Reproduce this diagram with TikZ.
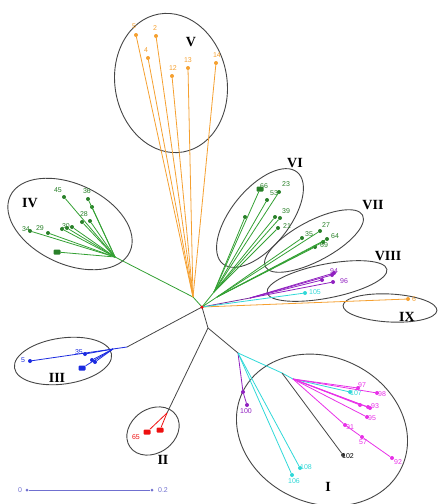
\documentclass[tikz,border=0pt]{standalone}
\usepackage{fontspec}
\setmainfont{Liberation Serif}
\newfontfamily\labfont{Liberation Sans}
\usetikzlibrary{shapes.geometric}
\definecolor{cor}{HTML}{F5A030}
\definecolor{cgr}{HTML}{33A033}
\definecolor{cbl}{HTML}{1A2AE0}
\definecolor{cre}{HTML}{EE1010}
\definecolor{cpu}{HTML}{9020C0}
\definecolor{ccy}{HTML}{30D8D8}
\definecolor{cma}{HTML}{E830E8}
\definecolor{cbk}{HTML}{454545}
\definecolor{csc}{HTML}{7070D0}
\begin{document}
\begin{tikzpicture}[x=1pt,y=-1pt,
 br/.style={line width=0.8pt},
 lf/.style={circle,fill,inner sep=0pt,minimum size=4pt},
 bl/.style={rectangle,fill,inner sep=0pt,minimum width=7pt,minimum height=5pt,rounded corners=1pt},
 lb/.style={font=\labfont\fontsize{7}{7}\selectfont,inner sep=0.5pt},
 rn/.style={font=\bfseries\fontsize{14}{14}\selectfont,inner sep=0pt},
 grp/.style={ellipse,draw=cbk,line width=0.9pt,inner sep=0pt}]
\useasboundingbox (0,0) rectangle (439,504);
% group ellipses
\node[grp,minimum width=112pt,minimum height=140pt,rotate=10] (eV) at (171,83) {};
\node[grp,minimum width=132pt,minimum height=80pt,rotate=-25] (eIV) at (70,224) {};
\node[grp,minimum width=118pt,minimum height=58pt,rotate=51] (eVI) at (260,218) {};
\node[grp,minimum width=110pt,minimum height=40pt,rotate=28] (eVII) at (314,241) {};
\node[grp,minimum width=122pt,minimum height=34pt,rotate=11] (eVIII) at (327,281) {};
\node[grp,minimum width=94pt,minimum height=28pt,rotate=-3] (eIX) at (390,308) {};
\node[grp,minimum width=98pt,minimum height=46pt,rotate=8] (eIII) at (63,361) {};
\node[grp,minimum width=56pt,minimum height=44pt,rotate=35] (eII) at (153,431) {};
\node[grp,minimum width=176pt,minimum height=146pt,rotate=-25] (eI) at (322,430) {};
% roman numerals
\node[rn] (rV) at (191,42) {V};
\node[rn] (rIV) at (30,203) {IV};
\node[rn] (rVI) at (295,163) {VI};
\node[rn] (rVII) at (373,205) {VII};
\node[rn] (rVIII) at (388,256) {VIII};
\node[rn] (rIX) at (407,317) {IX};
\node[rn] (rIII) at (57,378) {III};
\node[rn] (rII) at (163,460) {II};
\node[rn] (rI) at (328,487) {I};
% junctions
\coordinate (c0) at (202,307);
\coordinate (o1) at (193,297);
\coordinate (g4) at (115,257);
\coordinate (g6) at (214,292);
\coordinate (g7) at (217,297);
\coordinate (p8) at (250,298);
\coordinate (b0) at (127,347);
\coordinate (b1) at (113,349);
\coordinate (d1) at (208,328);
\coordinate (r0) at (167,413);
\coordinate (d2) at (238,353);
\coordinate (c2) at (282,373);
\coordinate (c3) at (293,379);
% ---- trunk lines
\draw[br,cgr] (c0) -- (o1) -- (g4);
\draw[br,cgr] (c0) -- (g6);
\draw[br,cgr] (c0) -- (g7);
\draw[br,cpu!70!cbk] (c0) -- (p8);
\draw[br,cbk] (c0) -- (b0);
\draw[br,cbk] (c0) -- (d1) -- (r0);
\draw[br,cbk] (d1) -- (d2);
% ---- V and IX (orange)
\begin{scope}[cor]
\node[lf] (v5) at (136,35) {};  \node[lb] (l5) at (134,26) {5};
\node[lf] (v2) at (156,36) {};  \node[lb] (l2) at (155,28) {2};
\node[lf] (v4) at (148,58) {};  \node[lb] (l4) at (146,50) {4};
\node[lf] (v12) at (172,76) {}; \node[lb] (l12) at (173,68) {12};
\node[lf] (v13) at (188,68) {}; \node[lb] (l13) at (188,60) {13};
\node[lf] (v14) at (216,63) {}; \node[lb] (l14) at (217,55) {14};
\foreach \n in {v5,v2,v4,v12,v13,v14} \draw[br] (o1) -- (\n);
\node[lf] (x1) at (408,299) {}; \node[lb] (lx1) at (414,299) {6};
\draw[br] (c0) -- (x1);
\end{scope}
% ---- IV (green)
\begin{scope}[cgr!80!black]
\node[lf] (i45) at (64,197) {}; \node[lb] (l45) at (58,190) {45};
\node[lf] (i36) at (88,199) {}; \node[lb] (l36) at (87,191) {36};
\node[lf] (i37) at (92,207) {};
\node[lf] (i28) at (82,222) {}; \node[lb] (l28) at (84,214) {28};
\node[lf] (i28b) at (90,221) {};
\node[lf] (i34) at (30,231) {}; \node[lb] (l34) at (26,229) {34};
\node[lf] (i29) at (48,233) {}; \node[lb] (l29) at (40,228) {29};
\node[lf] (i30) at (62,229) {};
\node[lf] (i31) at (67,228) {}; \node[lb] (l30) at (66,226) {30};
\node[lf] (i32) at (72,227) {};
\node[bl] (iblob) at (57,252) {};
\foreach \n in {i45,i36,i37,i28,i28b,i34,i29,i30,i31,i32,iblob} \draw[br,cgr] (g4) -- (\n);
% VI
\node[lf] (s23) at (279,192) {}; \node[lb] (l23) at (286,184) {23};
\node[bl] (s66) at (260,189) {}; \node[lb] (l66) at (264,186) {66};
\node[lf] (s53) at (267,200) {}; \node[lb] (l53) at (274,193) {53};
\node[lf] (s26) at (245,217) {};
\node[lf] (s39a) at (275,217) {};
\node[lf] (s39b) at (280,218) {}; \node[lb] (l39) at (286,211) {39};
\node[lf] (s21) at (278,228) {}; \node[lb] (l21) at (287,226) {21};
\foreach \n in {s23,s66,s53,s26,s39a,s39b,s21} \draw[br,cgr] (g6) -- (\n);
% VII
\node[lf] (t27) at (320,231) {}; \node[lb] (l27) at (326,225) {27};
\node[lf] (t35) at (302,238) {}; \node[lb] (l35) at (309,234) {35};
\node[lf] (t64) at (327,239) {}; \node[lb] (l64) at (335,236) {64};
\node[lf] (t63) at (323,242) {};
\node[lf] (t69) at (315,247) {}; \node[lb] (l69) at (324,245) {69};
\foreach \n in {t27,t35,t64,t63,t69} \draw[br,cgr] (g7) -- (\n);
\end{scope}
% ---- VIII (purple + cyan)
\begin{scope}[cpu]
\node[lf] (u1) at (332,275) {};
\node[lf] (u2) at (334,273) {}; \node[lb] (l94) at (334,271) {94};
\node[lf] (u3) at (322,280) {};
\node[lf] (u4) at (333,282) {}; \node[lb] (l96) at (344,281) {96};
\foreach \n in {u1,u2,u3,u4} \draw[br] (p8) -- (\n);
\end{scope}
\begin{scope}[ccy]
\node[lf] (u5) at (305,293) {}; \node[lb] (l105) at (315,292) {105};
\draw[br] (c0) -- (u5);
\end{scope}
% ---- III (blue)
\begin{scope}[cbl]
\node[lf] (e5) at (30,361) {}; \node[lb] (le5) at (23,360) {5};
\node[lf] (e3) at (85,354) {}; \node[lb] (le3) at (79,352) {35};
\node[lf] (e1) at (92,360) {};
\node[lf] (e2) at (95,362) {};
\node[bl] (eb) at (82,368) {};
\draw[br] (b0) -- (b1);
\foreach \n in {e5,e3,e1,e2,eb} \draw[br] (b1) -- (\n);
\end{scope}
% ---- II (red)
\begin{scope}[cre]
\node[bl] (rb1) at (147,432) {};
\node[bl] (rb2) at (160,430) {};
\node[lb] (l65) at (136,437) {65};
\draw[br] (r0) -- (rb1);
\draw[br] (r0) -- (rb2);
\node[lf,minimum size=3.5pt] (c0dot) at (c0) {};
\end{scope}
% ---- I
\begin{scope}[cpu]
\node[lf] (pp) at (243,392) {};
\node[lf] (q100) at (247,405) {}; \node[lb] (l100) at (246,411) {100};
\draw[br] (d2) -- (pp) -- (q100);
\end{scope}
\begin{scope}[ccy]
\node[lf] (k106) at (292,475) {}; \node[lb] (l106) at (294,481) {106};
\node[lf] (k108) at (300,468) {}; \node[lb] (l108) at (306,467) {108};
\draw[br] (d2) -- (k106);
\draw[br] (d2) -- (k108);
\draw[br] (d2) -- (c2) -- (c3);
\node[lf] (m2) at (350,392) {}; \node[lb] (l107) at (356,393) {107};
\draw[br] (c3) -- (m2);
\end{scope}
\node[lf,cbk] (m102) at (343,455) {}; \node[lb,black] (l102) at (348,456) {102};
\draw[br,cbk] (c2) -- (m102);
\begin{scope}[cma]
\node[lf] (m1) at (358,388) {}; \node[lb] (l97) at (362,385) {97};
\node[lf] (m3) at (377,393) {}; \node[lb] (l98) at (382,394) {98};
\node[lf] (m4) at (360,405) {};
\node[lf] (m5) at (368,407) {};
\node[lf] (m6) at (370,408) {}; \node[lb] (l93) at (375,406) {93};
\node[lf] (m7) at (367,417) {}; \node[lb] (l95) at (372,418) {95};
\node[lf] (m8) at (345,425) {}; \node[lb] (l91) at (350,427) {91};
\node[lf] (m9) at (362,437) {}; \node[lb] (l57) at (363,442) {57};
\node[lf] (m10) at (392,458) {}; \node[lb] (l92) at (398,462) {92};
\foreach \n in {m1,m3,m4,m5,m6,m7} \draw[br] (c3) -- (\n);
\draw[br] (c3) -- (m8) -- (m9) -- (m10);
\end{scope}
% ---- scale bar
\begin{scope}[csc]
\node[lf,minimum size=3pt] (s0) at (27,490) {};
\node[lf,minimum size=3pt] (s1) at (152,490) {};
\draw[line width=0.9pt] (s0) -- (s1);
\node[lb] (ls0) at (20,490) {0};
\node[lb] (ls1) at (163,490) {0.2};
\end{scope}
\end{tikzpicture}
\end{document}
